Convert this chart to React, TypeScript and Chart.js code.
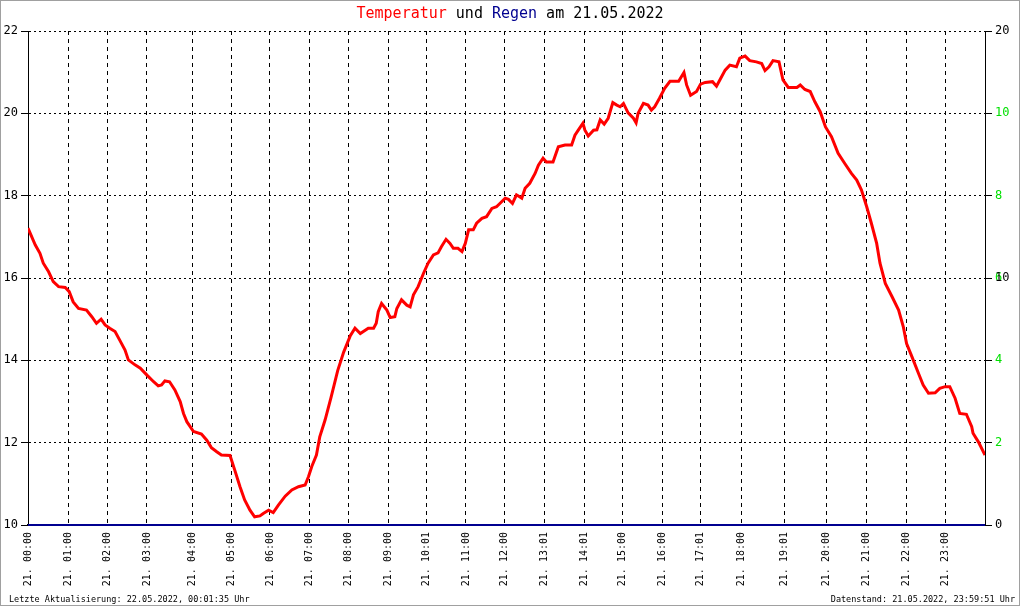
import React, { useEffect, useRef } from 'react';
import { Chart, registerables } from 'chart.js';

Chart.register(...registerables);

// Sample number within the day (recorder index, 1440 = end of day) and temperature in °C
const sampleNo = [
  0, 11, 18, 23, 31, 38, 46, 56, 62, 68,
  76, 88, 96, 103, 110, 116, 123, 131, 138, 146,
  151, 161, 169, 179, 189, 196, 201, 206, 213, 221,
  229, 234, 239, 249, 261, 269, 276, 284, 291, 304,
  311, 319, 326, 334, 341, 349, 354, 362, 369, 377,
  387, 397, 407, 417, 422, 427, 434, 439, 447, 456,
  466, 475, 485, 492, 500, 512, 520, 524, 527, 532,
  540, 545, 552, 555, 562, 570, 575, 580, 587, 595,
  602, 610, 617, 622, 629, 635, 640, 647, 653, 658,
  663, 670, 675, 683, 690, 698, 705, 710, 718, 723,
  729, 735, 743, 748, 755, 763, 768, 775, 780, 790,
  798, 808, 818, 823, 828, 835, 838, 843, 851, 856,
  861, 867, 873, 880, 886, 891, 896, 903, 911, 915,
  918, 926, 933, 938, 943, 950, 958, 966, 979, 987,
  991, 997, 1006, 1012, 1019, 1030, 1036, 1041, 1049, 1056,
  1066, 1071, 1079, 1086, 1096, 1104, 1109, 1115, 1121, 1130,
  1136, 1144, 1157, 1162, 1169, 1177, 1184, 1192, 1200, 1209,
  1219, 1229, 1239, 1247, 1254, 1262, 1269, 1277, 1282, 1290,
  1300, 1310, 1317, 1322, 1330, 1340, 1347, 1355, 1365, 1372,
  1380, 1387, 1395, 1402, 1412, 1420, 1422, 1430, 1440,
];

const temperature = [
  17.21, 16.8, 16.6, 16.36, 16.15, 15.91, 15.79, 15.77, 15.67, 15.42,
  15.26, 15.22, 15.06, 14.9, 15.0, 14.86, 14.78, 14.7, 14.49, 14.25,
  14.01, 13.89, 13.81, 13.64, 13.48, 13.38, 13.4, 13.5, 13.48, 13.28,
  13.0, 12.71, 12.51, 12.27, 12.21, 12.06, 11.88, 11.78, 11.7, 11.69,
  11.34, 10.93, 10.61, 10.36, 10.2, 10.22, 10.28, 10.36, 10.3, 10.49,
  10.7, 10.85, 10.93, 10.97, 11.17, 11.42, 11.7, 12.14, 12.55, 13.1,
  13.75, 14.2, 14.6, 14.78, 14.65, 14.78, 14.78, 14.9, 15.18, 15.38,
  15.22, 15.04, 15.06, 15.26, 15.47, 15.34, 15.3, 15.59, 15.79, 16.11,
  16.36, 16.56, 16.61, 16.76, 16.94, 16.84, 16.72, 16.72, 16.64, 16.84,
  17.17, 17.17, 17.33, 17.45, 17.49, 17.69, 17.73, 17.81, 17.94, 17.91,
  17.81, 18.02, 17.94, 18.18, 18.3, 18.54, 18.74, 18.91, 18.82, 18.82,
  19.19, 19.23, 19.23, 19.47, 19.59, 19.76, 19.59, 19.45, 19.59, 19.6,
  19.84, 19.74, 19.88, 20.26, 20.2, 20.16, 20.24, 20.01, 19.88, 19.77,
  20.0, 20.24, 20.2, 20.08, 20.16, 20.36, 20.61, 20.78, 20.78, 20.99,
  20.69, 20.44, 20.53, 20.71, 20.75, 20.77, 20.66, 20.81, 21.05, 21.17,
  21.13, 21.34, 21.39, 21.28, 21.25, 21.21, 21.04, 21.13, 21.28, 21.25,
  20.81, 20.63, 20.63, 20.69, 20.58, 20.53, 20.28, 20.04, 19.67, 19.43,
  19.03, 18.78, 18.54, 18.38, 18.14, 17.73, 17.33, 16.84, 16.36, 15.87,
  15.55, 15.22, 14.82, 14.41, 14.09, 13.68, 13.4, 13.2, 13.21, 13.32,
  13.36, 13.36, 13.08, 12.71, 12.69, 12.39, 12.23, 12.02, 11.7,
];

// Rain (mm) — no rain this day
const rainSampleNo = [0, 1440];
const rain = [0, 0];

// Hour labels and the sample number where each one falls
const hourTickSample = [
  0, 61, 119, 179, 248, 306, 364, 423, 482, 542, 600, 659,
  717, 777, 837, 894, 954, 1012, 1074, 1138, 1201, 1262, 1322, 1381,
];
const hourTickLabels = [
  '21. 00:00', '21. 01:00', '21. 02:00', '21. 03:00', '21. 04:00', '21. 05:00',
  '21. 06:00', '21. 07:00', '21. 08:00', '21. 09:00', '21. 10:01', '21. 11:00',
  '21. 12:00', '21. 13:01', '21. 14:01', '21. 15:00', '21. 16:00', '21. 17:01',
  '21. 18:00', '21. 19:01', '21. 20:00', '21. 21:00', '21. 22:00', '21. 23:00',
];

// Right axis labels (two overlaid label sets)
const rightTickValues = [10, 12, 14, 16, 16, 18, 20, 22];
const rightTickLabels = ['0', '2', '4', '6', '10', '8', '10', '20'];
const rightTickColors = ['#000000', '#00e000', '#00e000', '#00e000', '#000000', '#00e000', '#00e000', '#000000'];

const titleParts = [
  { text: 'Temperatur', color: '#ff0000' },
  { text: ' und ', color: '#000000' },
  { text: 'Regen', color: '#000090' },
  { text: ' am 21.05.2022', color: '#000000' },
];
const footerLeft = 'Letzte Aktualisierung: 22.05.2022, 00:01:35 Uhr';
const footerRight = 'Datenstand: 21.05.2022, 23:59:51 Uhr';

const MONO = '"DejaVu Sans Mono", "Liberation Mono", monospace';

const framePlugin = {
  id: 'framePlugin',
  beforeDraw(chart: any) {
    const { ctx, width, height } = chart;
    ctx.save();
    ctx.fillStyle = '#ffffff';
    ctx.fillRect(0, 0, width, height);
    ctx.restore();
  },
  afterDraw(chart: any) {
    const { ctx, width, height } = chart;
    ctx.save();
    ctx.strokeStyle = '#a0a0a0';
    ctx.lineWidth = 1;
    ctx.strokeRect(0.5, 0.5, width - 1, height - 1);

    ctx.font = `15px ${MONO}`;
    ctx.textBaseline = 'alphabetic';
    ctx.textAlign = 'left';
    const total = titleParts.reduce((s, p) => s + ctx.measureText(p.text).width, 0);
    let x = width / 2 - total / 2;
    for (const p of titleParts) {
      ctx.fillStyle = p.color;
      ctx.fillText(p.text, x, 18);
      x += ctx.measureText(p.text).width;
    }

    ctx.font = `8.5px ${MONO}`;
    ctx.fillStyle = '#000000';
    ctx.textAlign = 'left';
    ctx.fillText(footerLeft, 9, 602);
    ctx.textAlign = 'right';
    ctx.fillText(footerRight, width - 5, 602);
    ctx.restore();
  },
};

export default function App() {
  const canvasRef = useRef<HTMLCanvasElement | null>(null);

  useEffect(() => {
    document.body.style.margin = '0';
    const canvas = canvasRef.current;
    if (!canvas) return;

    const chart = new Chart(canvas, {
      type: 'line',
      data: {
        datasets: [
          {
            label: 'Temperatur',
            data: sampleNo.map((s, i) => ({ x: s, y: temperature[i] })),
            borderColor: '#ff0000',
            backgroundColor: '#ff0000',
            borderWidth: 3,
            pointRadius: 0,
            tension: 0,
            yAxisID: 'y',
          },
          {
            label: 'Regen',
            data: rainSampleNo.map((s, i) => ({ x: s, y: rain[i] })),
            borderColor: '#000090',
            backgroundColor: '#000090',
            borderWidth: 2,
            pointRadius: 0,
            tension: 0,
            clip: false,
            yAxisID: 'yRain',
          },
        ],
      },
      options: {
        responsive: false,
        animation: false,
        devicePixelRatio: 1,
        layout: { padding: { top: 31, left: 0, right: 0, bottom: 0 } },
        plugins: {
          legend: { display: false },
          tooltip: { enabled: false },
          title: { display: false },
        },
        scales: {
          x: {
            type: 'linear',
            min: 0,
            max: 1440,
            afterBuildTicks: (scale: any) => {
              scale.ticks = hourTickSample.map((v) => ({ value: v }));
            },
            afterFit: (scale: any) => {
              scale.height = 81;
            },
            ticks: {
              autoSkip: false,
              minRotation: 90,
              maxRotation: 90,
              padding: 7,
              color: '#000000',
              font: { family: MONO, size: 10 },
              callback: (_v: any, i: number) => hourTickLabels[i],
            },
            grid: {
              color: '#000000',
              lineWidth: 1,
              drawTicks: false,
            },
            border: { display: true, color: '#000000', width: 2, dash: [4, 4] },
          },
          y: {
            type: 'linear',
            position: 'left',
            min: 10,
            max: 22,
            afterFit: (scale: any) => {
              scale.width = 28;
            },
            ticks: {
              stepSize: 2,
              padding: 3,
              color: '#000000',
              font: { family: MONO, size: 12 },
            },
            grid: {
              color: '#000000',
              lineWidth: 1,
              tickLength: 7,
              tickColor: '#000000',
            },
            border: { display: true, color: '#000000', width: 1, dash: [2, 3] },
          },
          yR: {
            type: 'linear',
            position: 'right',
            min: 10,
            max: 22,
            afterBuildTicks: (scale: any) => {
              scale.ticks = rightTickValues.map((v) => ({ value: v }));
            },
            afterFit: (scale: any) => {
              scale.width = 35;
            },
            ticks: {
              autoSkip: false,
              padding: 3,
              font: { family: MONO, size: 12 },
              color: (ctx: any) => rightTickColors[ctx.index] || '#000000',
              callback: (_v: any, i: number) => rightTickLabels[i],
            },
            grid: {
              drawOnChartArea: false,
              tickLength: 7,
              tickColor: '#000000',
              color: '#000000',
            },
            border: { display: true, color: '#000000', width: 1 },
          },
          yRain: {
            type: 'linear',
            display: false,
            min: 0,
            max: 20,
          },
        },
      },
      plugins: [framePlugin],
    } as any);

    return () => {
      chart.destroy();
    };
  }, []);

  return (
    <canvas
      ref={canvasRef}
      width={1020}
      height={606}
      style={{ display: 'block', width: 1020, height: 606 }}
    />
  );
}
